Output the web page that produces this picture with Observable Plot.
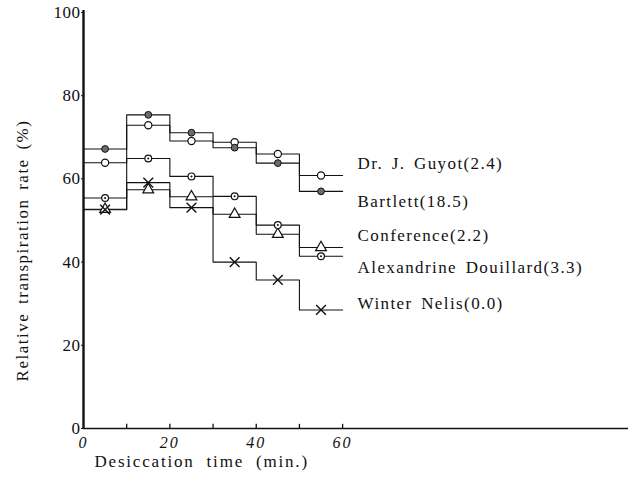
<!DOCTYPE html>
<html>
<head>
<meta charset="utf-8">
<script src="https://cdn.jsdelivr.net/npm/d3@7"></script>
<script src="https://cdn.jsdelivr.net/npm/@observablehq/plot@0.6"></script>
<style>
  html, body { margin: 0; padding: 0; background: #fff; }
  svg { display: block; }
  [aria-description="series-labels"] text { letter-spacing: 1.4px; word-spacing: 3px; }
  [aria-description="x-title"] text { letter-spacing: 1.8px; word-spacing: 6px; }
  [aria-description="y-title"] text { letter-spacing: 1.5px; word-spacing: 3px; }
  g[aria-label="x-axis tick label"] text { letter-spacing: 2px; font-style: italic; }
  g[aria-label="y-axis tick label"] text { letter-spacing: 0.5px; }
</style>
</head>
<body>
<div id="chart"></div>
<script>
// ---- data ----
const times = [0, 10, 20, 30, 40, 50, 60];          // interval boundaries (min.)
const midTimes = [5, 15, 25, 35, 45, 55];           // marker positions
const seriesNames = ["Dr. J. Guyot(2.4)", "Bartlett(18.5)", "Conference(2.2)", "Alexandrine Douillard(3.3)", "Winter Nelis(0.0)"];
const guyot = [63.9, 72.9, 69.1, 68.8, 66.0, 60.8];
const bartlett = [67.2, 75.4, 71.1, 67.5, 63.8, 57.0];
const conference = [52.7, 57.4, 55.7, 51.5, 46.7, 43.5];
const alexandrine = [55.4, 64.9, 60.6, 55.8, 48.9, 41.4];
const winterNelis = [52.6, 59.1, 53.1, 40.0, 35.7, 28.5];
const labelY = [63.6, 54.5, 46.3, 38.7, 30.0];       // legend label heights (%)
const yTicks = [0, 20, 40, 60, 80, 100];
const xTickLabels = [0, 20, 40, 60];
const xTickMarks = [10, 20, 30, 40, 50, 60];

const allValues = [guyot, bartlett, conference, alexandrine, winterNelis];

// step line data: value of each interval held to the next boundary
const stepData = [];
const markData = [];
allValues.forEach((vals, s) => {
  times.forEach((t, i) => stepData.push({series: seriesNames[s], t, v: vals[Math.min(i, vals.length - 1)]}));
  midTimes.forEach((t, i) => markData.push({series: seriesNames[s], t, v: vals[i]}));
});
const bySeries = name => markData.filter(d => d.series === name);
const labels = seriesNames.map((name, i) => ({name, t: times[times.length - 1], y: labelY[i]}));

const serif = "Liberation Serif, Times New Roman, serif";

const chart = Plot.plot({
  width: 628,
  height: 487,
  marginLeft: 83,
  marginRight: 0,
  marginTop: 12,
  marginBottom: 59,
  style: {fontFamily: serif, background: "#fff", color: "#111"},
  x: {domain: [0, 126.2]},
  y: {domain: [0, 100]},
  marks: [
    Plot.axisY({ticks: yTicks, tickSize: 2, tickPadding: 1, fontSize: 17, fontFamily: serif, label: null}),
    Plot.axisX({ticks: xTickLabels, tickSize: 0, tickPadding: 8, fontSize: 16, fontFamily: serif, label: null}),
    Plot.ruleX(xTickMarks, {y1: 0, y2: 1, stroke: "#111", strokeWidth: 1.3}),
    Plot.ruleY([0], {stroke: "#111", strokeWidth: 1.6}),
    Plot.ruleX([0], {y1: 0, y2: 100.5, stroke: "#111", strokeWidth: 2.4}),
    Plot.line(stepData, {x: "t", y: "v", z: "series", curve: "step-after", stroke: "#111", strokeWidth: 1.1}),
    // Dr. J. Guyot: open circle
    Plot.dot(bySeries(seriesNames[0]), {x: "t", y: "v", r: 3.6, fill: "#fff", stroke: "#111", strokeWidth: 1.2}),
    // Bartlett: filled circle
    Plot.dot(bySeries(seriesNames[1]), {x: "t", y: "v", r: 3.4, fill: "#6b6b6b", stroke: "#111", strokeWidth: 1}),
    // Conference: open triangle
    Plot.dot(bySeries(seriesNames[2]), {x: "t", y: "v", symbol: "triangle", r: 4, fill: "#fff", stroke: "#111", strokeWidth: 1.2}),
    // Alexandrine Douillard: circle with centre dot
    Plot.dot(bySeries(seriesNames[3]), {x: "t", y: "v", r: 3.4, fill: "#fff", stroke: "#111", strokeWidth: 1.2}),
    Plot.dot(bySeries(seriesNames[3]), {x: "t", y: "v", r: 1, fill: "#111"}),
    // Winter Nelis: cross
    Plot.dot(bySeries(seriesNames[4]), {x: "t", y: "v", symbol: "times", r: 4.5, stroke: "#111", strokeWidth: 1.4}),
    Plot.text(labels, {x: "t", y: "y", text: "name", dx: 15, textAnchor: "start", fontSize: 17, fontFamily: serif, fill: "#111", ariaDescription: "series-labels"}),
    Plot.text(["Desiccation time (min.)"], {frameAnchor: "bottom-left", dx: 11, dy: 38, textAnchor: "start", fontSize: 17, fontFamily: serif, fill: "#111", ariaDescription: "x-title"}),
    Plot.text(["Relative transpiration rate (%)"], {frameAnchor: "left", rotate: -90, dx: -61, dy: 30, textAnchor: "middle", fontSize: 17, fontFamily: serif, fill: "#111", ariaDescription: "y-title"})
  ]
});
document.getElementById("chart").appendChild(chart);
</script>
</body>
</html>
